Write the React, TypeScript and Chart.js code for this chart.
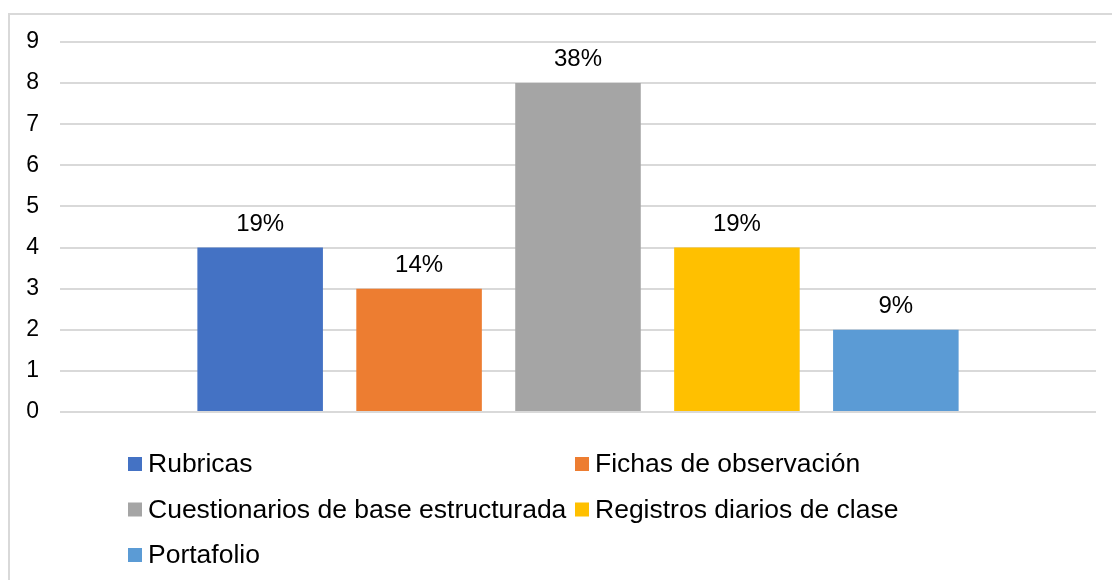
import React, { useEffect, useRef } from "react";
import { Chart, registerables } from "chart.js";

Chart.register(...registerables);

const categories = [""];
const seriesNames = [
  "Rubricas",
  "Fichas de observación",
  "Cuestionarios de base estructurada",
  "Registros diarios de clase",
  "Portafolio",
];
const seriesValues = [4, 3, 8, 4, 2];
const percentLabels = ["19%", "14%", "38%", "19%", "9%"];
const seriesColors = ["#4472C4", "#ED7D31", "#A5A5A5", "#FFC000", "#5B9BD5"];
const yTicks = [0, 1, 2, 3, 4, 5, 6, 7, 8, 9];

const FONT = "'Liberation Sans', Arial, sans-serif";

const borderPlugin = {
  id: "outerBorder",
  beforeDraw(chart: any) {
    const ctx = chart.ctx;
    ctx.save();
    ctx.fillStyle = "#ffffff";
    ctx.fillRect(0, 0, chart.width, chart.height);
    ctx.strokeStyle = "#d9d9d9";
    ctx.lineWidth = 2;
    ctx.strokeRect(9, 14, chart.width + 20, chart.height + 20);
    ctx.restore();
  },
};

const valueLabelPlugin = {
  id: "valueLabels",
  afterDatasetsDraw(chart: any) {
    const ctx = chart.ctx;
    ctx.save();
    ctx.font = `24px ${FONT}`;
    ctx.fillStyle = "#000000";
    ctx.textAlign = "center";
    ctx.textBaseline = "alphabetic";
    chart.data.datasets.forEach((ds: any, i: number) => {
      const meta = chart.getDatasetMeta(i);
      const bar = meta.data[0];
      if (!bar) return;
      ctx.fillText(percentLabels[i], bar.x, bar.y - 17);
    });
    ctx.restore();
  },
};

const gridLegendPlugin = {
  id: "gridLegend",
  afterDraw(chart: any) {
    const ctx = chart.ctx;
    const colX = [128, 575];
    const rowY = [464, 509.5, 555];
    ctx.save();
    ctx.font = `26.5px ${FONT}`;
    ctx.textAlign = "left";
    ctx.textBaseline = "middle";
    chart.data.datasets.forEach((ds: any, i: number) => {
      const col = i % 2;
      const row = Math.floor(i / 2);
      const x = colX[col];
      const y = rowY[row];
      ctx.fillStyle = ds.backgroundColor;
      ctx.fillRect(x, y - 7, 14, 14);
      ctx.fillStyle = "#000000";
      ctx.fillText(ds.label, x + 20, y + 1);
    });
    ctx.restore();
  },
};

export default function App() {
  const canvasRef = useRef<HTMLCanvasElement | null>(null);

  useEffect(() => {
    if (!canvasRef.current) return;
    const chart = new Chart(canvasRef.current, {
      type: "bar",
      data: {
        labels: categories,
        datasets: seriesNames.map((name, i) => ({
          label: name,
          data: [seriesValues[i]],
          backgroundColor: seriesColors[i],
          borderWidth: 0,
          categoryPercentage: 0.767,
          barPercentage: 0.79,
        })),
      },
      options: {
        responsive: false,
        animation: false,
        devicePixelRatio: 1,
        layout: { padding: { left: 0, top: 42, right: 16, bottom: 168 } },
        plugins: {
          legend: { display: false },
          tooltip: { enabled: false },
          title: { display: false },
        },
        scales: {
          x: { display: false },
          y: {
            min: 0,
            max: 9,
            afterFit(scale: any) {
              scale.width = 60;
            },
            afterBuildTicks(scale: any) {
              scale.ticks = yTicks.map((v) => ({ value: v }));
            },
            border: { display: false },
            grid: { color: "#d9d9d9", lineWidth: 2, drawTicks: false },
            ticks: {
              padding: 21,
              color: "#000000",
              font: { family: FONT, size: 23 },
            },
          },
        },
      },
      plugins: [borderPlugin, valueLabelPlugin, gridLegendPlugin],
    });
    return () => chart.destroy();
  }, []);

  return (
    <div style={{ position: "absolute", left: 0, top: 0, width: 1112, height: 580 }}>
      <canvas ref={canvasRef} width={1112} height={580} style={{ display: "block" }} />
    </div>
  );
}
